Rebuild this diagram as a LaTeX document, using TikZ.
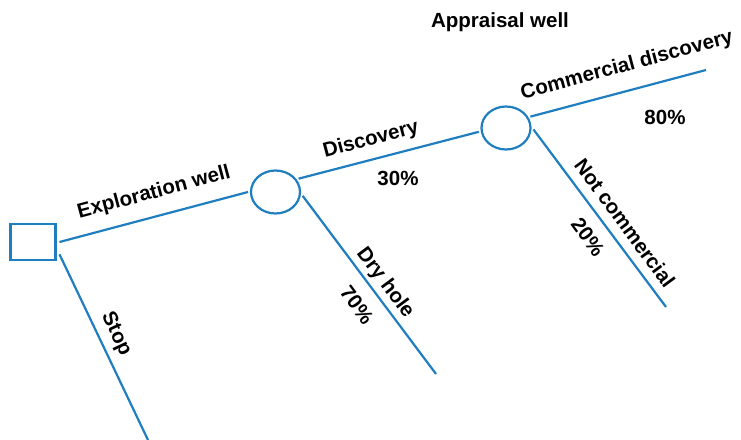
\documentclass[tikz,border=0pt]{standalone}
\usepackage{fontspec}
\setmainfont{Liberation Sans}
\usetikzlibrary{shapes.geometric}
\definecolor{treeblue}{HTML}{1E7EC0}
\tikzstyle{decision} = [rectangle, minimum width=45pt, minimum height=36pt, draw=treeblue, line width=2.2pt, outer sep=4pt]
\tikzstyle{chance} = [ellipse, minimum width=49pt, minimum height=43pt, draw=treeblue, line width=2.2pt, outer sep=3pt]
\tikzstyle{branch} = [draw=treeblue, line width=2.2pt]
\tikzstyle{branchtext} = [font=\fontsize{20.5}{24}\selectfont\bfseries, inner sep=0pt, text=black]

\begin{document}
\begin{tikzpicture}[x=1pt, y=-1pt]
    \useasboundingbox (0,0) rectangle (741,439);

    \node (drill) [decision] at (33,242) {};
    \node (explore) [chance] at (275.5,192) {};
    \node (appraise) [chance] at (506,128) {};
    \coordinate (stopend) at (148,440);
    \coordinate (dryend) at (436,374);
    \coordinate (commend) at (706,70);
    \coordinate (notcommend) at (666,307);

    \draw [branch] (drill.east) -- (explore.west);
    \draw [branch] (drill.-25) -- (stopend);
    \draw [branch] (explore.30) -- (appraise.188);
    \draw [branch] (explore.-8) -- (dryend);
    \draw [branch] (appraise.25) -- (commend);
    \draw [branch] (appraise.-3) -- (notcommend);

    \node (appraisal) [branchtext] at (500,22) {Appraisal well};
    \node (exploration) [branchtext, rotate=15] at (154,193) {Exploration well};
    \node (discovery) [branchtext, rotate=15] at (371,140) {Discovery};
    \node (discprob) [branchtext] at (398,178) {30\%};
    \node (commercial) [branchtext, rotate=15] at (627,66) {Commercial discovery};
    \node (commprob) [branchtext] at (665,117) {80\%};
    \node (notcomm) [branchtext, rotate=-53.6] at (625,223) {Not commercial};
    \node (notcommprob) [branchtext, rotate=-53.6] at (588,237) {20\%};
    \node (dryhole) [branchtext, rotate=-53.3] at (385,283) {Dry hole};
    \node (dryprob) [branchtext, rotate=-53.3] at (357,305) {70\%};
    \node (stop) [branchtext, rotate=-64.7] at (116,334) {Stop};

\end{tikzpicture}
\end{document}
